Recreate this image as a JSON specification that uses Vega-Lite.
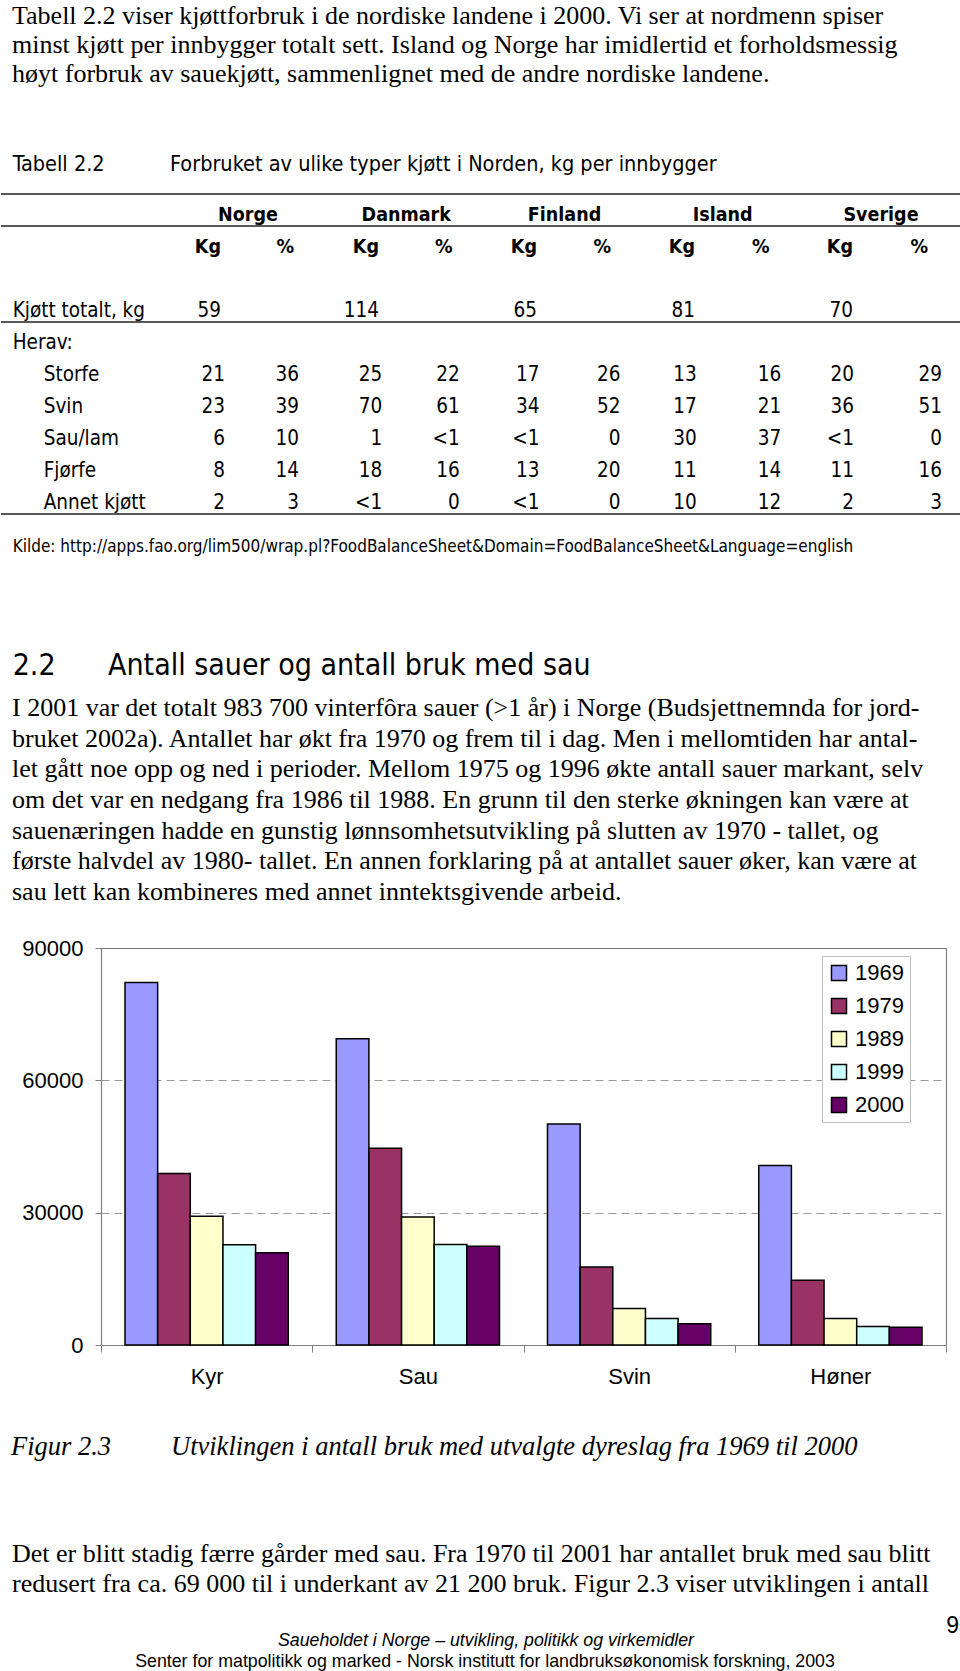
{
  "$schema": "https://vega.github.io/schema/vega-lite/v6.json",
  "background": "white",
  "padding": 0,
  "spacing": 0,
  "bounds": "flush",
  "resolve": {"scale": {"color": "independent"}, "legend": {"color": "independent"}},
  "config": {"view": {"stroke": null}, "text": {"color": "black"}},
  "datasets": {
    "p1": [
      {"line": 0, "text": "Tabell 2.2 viser kjøttforbruk i de nordiske landene i 2000. Vi ser at nordmenn spiser"},
      {"line": 1, "text": "minst kjøtt per innbygger totalt sett. Island og Norge har imidlertid et forholdsmessig"},
      {"line": 2, "text": "høyt forbruk av sauekjøtt, sammenlignet med de andre nordiske landene."}
    ],
    "p2": [
      {"line": 0, "text": "I 2001 var det totalt 983 700 vinterfôra sauer (>1 år) i Norge (Budsjettnemnda for jord-"},
      {"line": 1, "text": "bruket 2002a). Antallet har økt fra 1970 og frem til i dag. Men i mellomtiden har antal-"},
      {"line": 2, "text": "let gått noe opp og ned i perioder. Mellom 1975 og 1996 økte antall sauer markant, selv"},
      {"line": 3, "text": "om det var en nedgang fra 1986 til 1988. En grunn til den sterke økningen kan være at"},
      {"line": 4, "text": "sauenæringen hadde en gunstig lønnsomhetsutvikling på slutten av 1970 - tallet, og"},
      {"line": 5, "text": "første halvdel av 1980- tallet. En annen forklaring på at antallet sauer øker, kan være at"},
      {"line": 6, "text": "sau lett kan kombineres med annet inntektsgivende arbeid."}
    ],
    "p3": [
      {"line": 0, "text": "Det er blitt stadig færre gårder med sau. Fra 1970 til 2001 har antallet bruk med sau blitt"},
      {"line": 1, "text": "redusert fra ca. 69 000 til i underkant av 21 200 bruk. Figur 2.3 viser utviklingen i antall"}
    ],
    "tbl": [
      {"row": "Kjøtt totalt, kg", "country": "Norge", "kg": "59"},
      {"row": "Kjøtt totalt, kg", "country": "Danmark", "kg": "114"},
      {"row": "Kjøtt totalt, kg", "country": "Finland", "kg": "65"},
      {"row": "Kjøtt totalt, kg", "country": "Island", "kg": "81"},
      {"row": "Kjøtt totalt, kg", "country": "Sverige", "kg": "70"},
      {"row": "Storfe", "country": "Norge", "kg": "21", "pct": "36"},
      {"row": "Storfe", "country": "Danmark", "kg": "25", "pct": "22"},
      {"row": "Storfe", "country": "Finland", "kg": "17", "pct": "26"},
      {"row": "Storfe", "country": "Island", "kg": "13", "pct": "16"},
      {"row": "Storfe", "country": "Sverige", "kg": "20", "pct": "29"},
      {"row": "Svin", "country": "Norge", "kg": "23", "pct": "39"},
      {"row": "Svin", "country": "Danmark", "kg": "70", "pct": "61"},
      {"row": "Svin", "country": "Finland", "kg": "34", "pct": "52"},
      {"row": "Svin", "country": "Island", "kg": "17", "pct": "21"},
      {"row": "Svin", "country": "Sverige", "kg": "36", "pct": "51"},
      {"row": "Sau/lam", "country": "Norge", "kg": "6", "pct": "10"},
      {"row": "Sau/lam", "country": "Danmark", "kg": "1", "pct": "<1"},
      {"row": "Sau/lam", "country": "Finland", "kg": "<1", "pct": "0"},
      {"row": "Sau/lam", "country": "Island", "kg": "30", "pct": "37"},
      {"row": "Sau/lam", "country": "Sverige", "kg": "<1", "pct": "0"},
      {"row": "Fjørfe", "country": "Norge", "kg": "8", "pct": "14"},
      {"row": "Fjørfe", "country": "Danmark", "kg": "18", "pct": "16"},
      {"row": "Fjørfe", "country": "Finland", "kg": "13", "pct": "20"},
      {"row": "Fjørfe", "country": "Island", "kg": "11", "pct": "14"},
      {"row": "Fjørfe", "country": "Sverige", "kg": "11", "pct": "16"},
      {"row": "Annet kjøtt", "country": "Norge", "kg": "2", "pct": "3"},
      {"row": "Annet kjøtt", "country": "Danmark", "kg": "<1", "pct": "0"},
      {"row": "Annet kjøtt", "country": "Finland", "kg": "<1", "pct": "0"},
      {"row": "Annet kjøtt", "country": "Island", "kg": "10", "pct": "12"},
      {"row": "Annet kjøtt", "country": "Sverige", "kg": "2", "pct": "3"}
    ],
    "bars": [
      {"animal": "Kyr", "year": "1969", "count": 82200},
      {"animal": "Kyr", "year": "1979", "count": 38900},
      {"animal": "Kyr", "year": "1989", "count": 29200},
      {"animal": "Kyr", "year": "1999", "count": 22700},
      {"animal": "Kyr", "year": "2000", "count": 20900},
      {"animal": "Sau", "year": "1969", "count": 69400},
      {"animal": "Sau", "year": "1979", "count": 44600},
      {"animal": "Sau", "year": "1989", "count": 29000},
      {"animal": "Sau", "year": "1999", "count": 22800},
      {"animal": "Sau", "year": "2000", "count": 22400},
      {"animal": "Svin", "year": "1969", "count": 50100},
      {"animal": "Svin", "year": "1979", "count": 17700},
      {"animal": "Svin", "year": "1989", "count": 8300},
      {"animal": "Svin", "year": "1999", "count": 6000},
      {"animal": "Svin", "year": "2000", "count": 4800},
      {"animal": "Høner", "year": "1969", "count": 40700},
      {"animal": "Høner", "year": "1979", "count": 14700},
      {"animal": "Høner", "year": "1989", "count": 6000},
      {"animal": "Høner", "year": "1999", "count": 4200},
      {"animal": "Høner", "year": "2000", "count": 4000}
    ]
  },
  "vconcat": [
    {
      "width": 960,
      "height": 948,
      "resolve": {"scale": {"x": "independent", "y": "independent"}},
      "layer": [
        {
          "data": {"name": "p1"},
          "mark": {"type": "text", "align": "left", "baseline": "alphabetic", "font": "Liberation Serif", "fontSize": 26},
          "encoding": {
            "x": {"datum": 0, "type": "quantitative", "scale": {"domain": [0, 1], "range": [11, 958], "nice": false, "zero": false}, "axis": null},
            "y": {"field": "line", "type": "quantitative", "scale": {"domain": [0, 2], "range": [24, 82], "nice": false, "zero": false}, "axis": null},
            "text": {"field": "text"}
          }
        },
        {
          "data": {"values": [
            {"part": "num", "line": 0, "text": "Tabell 2.2"},
            {"part": "title", "line": 0, "text": "Forbruket av ulike typer kjøtt i Norden, kg per innbygger"}
          ]},
          "mark": {"type": "text", "align": "left", "baseline": "alphabetic", "font": "Liberation Sans Narrow, Arial Narrow, DejaVu Sans Condensed, sans-serif", "fontSize": 21.5},
          "encoding": {
            "x": {"field": "part", "type": "nominal", "scale": {"type": "point", "domain": ["num", "title"], "range": [11.7, 169], "padding": 0}, "axis": null},
            "y": {"field": "line", "type": "quantitative", "scale": {"domain": [0, 1], "range": [170.7, 200], "nice": false, "zero": false}, "axis": null},
            "text": {"field": "text"}
          }
        },
        {
          "encoding": {
            "y": {"field": "row", "type": "nominal", "scale": {"type": "band", "domain": ["hdr_country", "hdr_unit", "gap", "Kjøtt totalt, kg", "Herav:", "Storfe", "Svin", "Sau/lam", "Fjørfe", "Annet kjøtt"], "range": [194, 514], "paddingInner": 0, "paddingOuter": 0}, "axis": null}
          },
          "resolve": {"scale": {"x": "independent"}},
          "layer": [
            {
              "data": {"values": [
                {"row": "Kjøtt totalt, kg", "level": "0"},
                {"row": "Herav:", "level": "0"},
                {"row": "Storfe", "level": "1"},
                {"row": "Svin", "level": "1"},
                {"row": "Sau/lam", "level": "1"},
                {"row": "Fjørfe", "level": "1"},
                {"row": "Annet kjøtt", "level": "1"}
              ]},
              "mark": {"type": "text", "align": "left", "baseline": "alphabetic", "dy": 11, "font": "Liberation Sans Narrow, Arial Narrow, DejaVu Sans Condensed, sans-serif", "fontSize": 20.5},
              "encoding": {
                "x": {"field": "level", "type": "nominal", "scale": {"type": "point", "domain": ["0", "1"], "range": [11.7, 42.7], "padding": 0}, "axis": null},
                "text": {"field": "row"}
              }
            },
            {
              "data": {"values": [
                {"row": "hdr_country", "country": "Norge"},
                {"row": "hdr_country", "country": "Danmark"},
                {"row": "hdr_country", "country": "Finland"},
                {"row": "hdr_country", "country": "Island"},
                {"row": "hdr_country", "country": "Sverige"}
              ]},
              "mark": {"type": "text", "align": "center", "baseline": "alphabetic", "dy": 11, "font": "Liberation Sans Narrow, Arial Narrow, DejaVu Sans Condensed, sans-serif", "fontSize": 19.5, "fontWeight": "bold"},
              "encoding": {
                "x": {"field": "country", "type": "nominal", "scale": {"type": "point", "domain": ["Norge", "Danmark", "Finland", "Island", "Sverige"], "range": [247, 880], "padding": 0}, "axis": null},
                "text": {"field": "country"}
              }
            },
            {
              "data": {"values": [
                {"row": "hdr_unit", "country": "Norge", "unit": "Kg"},
                {"row": "hdr_unit", "country": "Danmark", "unit": "Kg"},
                {"row": "hdr_unit", "country": "Finland", "unit": "Kg"},
                {"row": "hdr_unit", "country": "Island", "unit": "Kg"},
                {"row": "hdr_unit", "country": "Sverige", "unit": "Kg"}
              ]},
              "mark": {"type": "text", "align": "right", "baseline": "alphabetic", "dy": 11, "font": "Liberation Sans Narrow, Arial Narrow, DejaVu Sans Condensed, sans-serif", "fontSize": 19.5, "fontWeight": "bold"},
              "encoding": {
                "x": {"field": "country", "type": "nominal", "scale": {"type": "point", "domain": ["Norge", "Danmark", "Finland", "Island", "Sverige"], "range": [220, 852], "padding": 0}, "axis": null},
                "text": {"field": "unit"}
              }
            },
            {
              "data": {"values": [
                {"row": "hdr_unit", "country": "Norge", "unit": "%"},
                {"row": "hdr_unit", "country": "Danmark", "unit": "%"},
                {"row": "hdr_unit", "country": "Finland", "unit": "%"},
                {"row": "hdr_unit", "country": "Island", "unit": "%"},
                {"row": "hdr_unit", "country": "Sverige", "unit": "%"}
              ]},
              "mark": {"type": "text", "align": "right", "baseline": "alphabetic", "dy": 11, "font": "Liberation Sans Narrow, Arial Narrow, DejaVu Sans Condensed, sans-serif", "fontSize": 19.5, "fontWeight": "bold"},
              "encoding": {
                "x": {"field": "country", "type": "nominal", "scale": {"type": "point", "domain": ["Norge", "Danmark", "Finland", "Island", "Sverige"], "range": [293, 927], "padding": 0}, "axis": null},
                "text": {"field": "unit"}
              }
            },
            {
              "data": {"name": "tbl"},
              "transform": [{"filter": "datum.pct == null"}],
              "mark": {"type": "text", "align": "right", "baseline": "alphabetic", "dy": 11, "font": "Liberation Sans Narrow, Arial Narrow, DejaVu Sans Condensed, sans-serif", "fontSize": 20.5},
              "encoding": {
                "x": {"field": "country", "type": "nominal", "scale": {"type": "point", "domain": ["Norge", "Danmark", "Finland", "Island", "Sverige"], "range": [220, 852], "padding": 0}, "axis": null},
                "text": {"field": "kg"}
              }
            },
            {
              "data": {"name": "tbl"},
              "transform": [{"filter": "datum.pct != null"}],
              "mark": {"type": "text", "align": "right", "baseline": "alphabetic", "dy": 11, "font": "Liberation Sans Narrow, Arial Narrow, DejaVu Sans Condensed, sans-serif", "fontSize": 20.5},
              "encoding": {
                "x": {"field": "country", "type": "nominal", "scale": {"type": "point", "domain": ["Norge", "Danmark", "Finland", "Island", "Sverige"], "range": [224, 853], "padding": 0}, "axis": null},
                "text": {"field": "kg"}
              }
            },
            {
              "data": {"name": "tbl"},
              "transform": [{"filter": "datum.pct != null"}],
              "mark": {"type": "text", "align": "right", "baseline": "alphabetic", "dy": 11, "font": "Liberation Sans Narrow, Arial Narrow, DejaVu Sans Condensed, sans-serif", "fontSize": 20.5},
              "encoding": {
                "x": {"field": "country", "type": "nominal", "scale": {"type": "point", "domain": ["Norge", "Danmark", "Finland", "Island", "Sverige"], "range": [298, 941], "padding": 0}, "axis": null},
                "text": {"field": "pct"}
              }
            },
            {
              "data": {"values": [{"row": "hdr_country"}]},
              "mark": {"type": "rule", "color": "#222222", "strokeWidth": 1.5},
              "encoding": {
                "y": {"field": "row", "type": "nominal", "bandPosition": 0, "scale": {"type": "band", "domain": ["hdr_country", "hdr_unit", "gap", "Kjøtt totalt, kg", "Herav:", "Storfe", "Svin", "Sau/lam", "Fjørfe", "Annet kjøtt"], "range": [194, 514], "paddingInner": 0, "paddingOuter": 0}, "axis": null}
              }
            },
            {
              "data": {"values": [{"row": "hdr_country"}, {"row": "Kjøtt totalt, kg"}, {"row": "Annet kjøtt"}]},
              "mark": {"type": "rule", "color": "#222222", "strokeWidth": 1.5},
              "encoding": {
                "y": {"field": "row", "type": "nominal", "bandPosition": 1, "scale": {"type": "band", "domain": ["hdr_country", "hdr_unit", "gap", "Kjøtt totalt, kg", "Herav:", "Storfe", "Svin", "Sau/lam", "Fjørfe", "Annet kjøtt"], "range": [194, 514], "paddingInner": 0, "paddingOuter": 0}, "axis": null}
              }
            }
          ]
        },
        {
          "data": {"values": [{"line": 0, "text": "Kilde: http://apps.fao.org/lim500/wrap.pl?FoodBalanceSheet&Domain=FoodBalanceSheet&Language=english"}]},
          "mark": {"type": "text", "align": "left", "baseline": "alphabetic", "font": "Liberation Sans Narrow, Arial Narrow, DejaVu Sans Condensed, sans-serif", "fontSize": 17},
          "encoding": {
            "x": {"datum": 0, "type": "quantitative", "scale": {"domain": [0, 1], "range": [11.7, 958], "nice": false, "zero": false}, "axis": null},
            "y": {"field": "line", "type": "quantitative", "scale": {"domain": [0, 1], "range": [551.7, 580], "nice": false, "zero": false}, "axis": null},
            "text": {"field": "text"}
          }
        },
        {
          "data": {"values": [
            {"part": "num", "line": 0, "text": "2.2"},
            {"part": "title", "line": 0, "text": "Antall sauer og antall bruk med sau"}
          ]},
          "mark": {"type": "text", "align": "left", "baseline": "alphabetic", "font": "Liberation Sans Narrow, Arial Narrow, DejaVu Sans Condensed, sans-serif", "fontSize": 30},
          "encoding": {
            "x": {"field": "part", "type": "nominal", "scale": {"type": "point", "domain": ["num", "title"], "range": [11.7, 107], "padding": 0}, "axis": null},
            "y": {"field": "line", "type": "quantitative", "scale": {"domain": [0, 1], "range": [675, 705], "nice": false, "zero": false}, "axis": null},
            "text": {"field": "text"}
          }
        },
        {
          "data": {"name": "p2"},
          "mark": {"type": "text", "align": "left", "baseline": "alphabetic", "font": "Liberation Serif", "fontSize": 26},
          "encoding": {
            "x": {"datum": 0, "type": "quantitative", "scale": {"domain": [0, 1], "range": [11, 958], "nice": false, "zero": false}, "axis": null},
            "y": {"field": "line", "type": "quantitative", "scale": {"domain": [0, 6], "range": [716, 900], "nice": false, "zero": false}, "axis": null},
            "text": {"field": "text"}
          }
        }
      ]
    },
    {
      "width": 945,
      "height": 397,
      "data": {"name": "bars"},
      "resolve": {"axis": {"x": "independent", "y": "independent"}},
      "layer": [
        {
          "mark": {"type": "bar", "stroke": "black", "strokeWidth": 1.5},
          "encoding": {
            "x": {
              "field": "animal", "type": "nominal", "sort": ["Kyr", "Sau", "Svin", "Høner"],
              "scale": {"type": "band", "range": [100, 945], "paddingInner": 0, "paddingOuter": 0},
              "axis": {"title": null, "labelAngle": 0, "labelFont": "Liberation Sans", "labelFontSize": 22, "labelColor": "black", "labelPadding": 14, "tickSize": 7, "tickColor": "#808080", "domainColor": "#808080", "domainWidth": 1.2, "tickBand": "extent", "grid": false}
            },
            "xOffset": {
              "field": "year", "type": "nominal", "sort": ["1969", "1979", "1989", "1999", "2000"],
              "scale": {"paddingInner": 0, "paddingOuter": 0.735}
            },
            "y": {
              "field": "count", "type": "quantitative",
              "scale": {"domain": [0, 90000], "nice": false},
              "axis": {
                "title": null, "offset": -100, "values": [0, 30000, 60000, 90000], "format": "d",
                "labelFont": "Liberation Sans", "labelFontSize": 22, "labelColor": "black", "labelPadding": 12,
                "tickSize": 6, "tickColor": "#808080", "domainColor": "#808080", "domainWidth": 1.2,
                "grid": true, "gridWidth": 1,
                "gridDash": {"condition": {"test": "datum.value >= 90000", "value": []}, "value": [8, 5]},
                "gridColor": {"condition": {"test": "datum.value >= 90000", "value": "#808080"}, "value": "#999999"}
              }
            },
            "color": {
              "field": "year", "type": "nominal",
              "scale": {"domain": ["1969", "1979", "1989", "1999", "2000"], "range": ["#9999FF", "#993366", "#FFFFCC", "#CCFFFF", "#660066"]},
              "legend": {"title": null, "orient": "none", "legendX": 821, "legendY": 8, "direction": "vertical", "symbolType": "square", "symbolSize": 225, "symbolStrokeColor": "black", "symbolStrokeWidth": 1.5, "labelFont": "Liberation Sans", "labelFontSize": 22, "labelColor": "black", "labelOffset": 5, "rowPadding": 11, "padding": 6, "strokeColor": "#c0c0c0", "fillColor": "white", "cornerRadius": 0}
            }
          }
        },
        {
          "mark": {"type": "bar", "opacity": 0, "strokeOpacity": 0},
          "encoding": {
            "x": {
              "field": "animal", "type": "nominal", "sort": ["Kyr", "Sau", "Svin", "Høner"],
              "axis": {"orient": "top", "title": null, "labels": false, "ticks": false, "grid": false, "domainColor": "#808080", "domainWidth": 1.2}
            },
            "y": {
              "field": "count", "type": "quantitative",
              "axis": {"orient": "right", "title": null, "labels": false, "ticks": false, "grid": false, "domainColor": "#808080", "domainWidth": 1.2}
            }
          }
        }
      ]
    },
    {
      "width": 960,
      "height": 326,
      "resolve": {"scale": {"x": "independent", "y": "independent"}},
      "layer": [
        {
          "data": {"values": [
            {"part": "num", "line": 0, "text": "Figur 2.3"},
            {"part": "title", "line": 0, "text": "Utviklingen i antall bruk med utvalgte dyreslag fra 1969 til 2000"}
          ]},
          "mark": {"type": "text", "align": "left", "baseline": "alphabetic", "font": "Liberation Serif", "fontStyle": "italic", "fontSize": 26.5},
          "encoding": {
            "x": {"field": "part", "type": "nominal", "scale": {"type": "point", "domain": ["num", "title"], "range": [10, 170], "padding": 0}, "axis": null},
            "y": {"field": "line", "type": "quantitative", "scale": {"domain": [0, 1], "range": [110, 140], "nice": false, "zero": false}, "axis": null},
            "text": {"field": "text"}
          }
        },
        {
          "data": {"name": "p3"},
          "mark": {"type": "text", "align": "left", "baseline": "alphabetic", "font": "Liberation Serif", "fontSize": 26},
          "encoding": {
            "x": {"datum": 0, "type": "quantitative", "scale": {"domain": [0, 1], "range": [11, 958], "nice": false, "zero": false}, "axis": null},
            "y": {"field": "line", "type": "quantitative", "scale": {"domain": [0, 1], "range": [216.7, 246.7], "nice": false, "zero": false}, "axis": null},
            "text": {"field": "text"}
          }
        },
        {
          "data": {"values": [{"line": 0, "text": "9"}]},
          "mark": {"type": "text", "align": "right", "baseline": "alphabetic", "font": "Liberation Sans", "fontSize": 23},
          "encoding": {
            "x": {"datum": 1, "type": "quantitative", "scale": {"domain": [0, 1], "range": [0, 958], "nice": false, "zero": false}, "axis": null},
            "y": {"field": "line", "type": "quantitative", "scale": {"domain": [0, 1], "range": [288, 318], "nice": false, "zero": false}, "axis": null},
            "text": {"field": "text"}
          }
        },
        {
          "data": {"values": [{"line": 0, "text": "Saueholdet i Norge – utvikling, politikk og virkemidler"}]},
          "mark": {"type": "text", "align": "center", "baseline": "alphabetic", "font": "Liberation Sans", "fontStyle": "italic", "fontSize": 17.8},
          "encoding": {
            "x": {"datum": 0.5, "type": "quantitative", "scale": {"domain": [0, 1], "range": [0, 970], "nice": false, "zero": false}, "axis": null},
            "y": {"field": "line", "type": "quantitative", "scale": {"domain": [0, 1], "range": [301, 321], "nice": false, "zero": false}, "axis": null},
            "text": {"field": "text"}
          }
        },
        {
          "data": {"values": [{"line": 0, "text": "Senter for matpolitikk og marked - Norsk institutt for landbruksøkonomisk forskning, 2003"}]},
          "mark": {"type": "text", "align": "center", "baseline": "alphabetic", "font": "Liberation Sans", "fontSize": 17.8},
          "encoding": {
            "x": {"datum": 0.5, "type": "quantitative", "scale": {"domain": [0, 1], "range": [0, 968], "nice": false, "zero": false}, "axis": null},
            "y": {"field": "line", "type": "quantitative", "scale": {"domain": [0, 1], "range": [321.7, 341], "nice": false, "zero": false}, "axis": null},
            "text": {"field": "text"}
          }
        }
      ]
    }
  ]
}
